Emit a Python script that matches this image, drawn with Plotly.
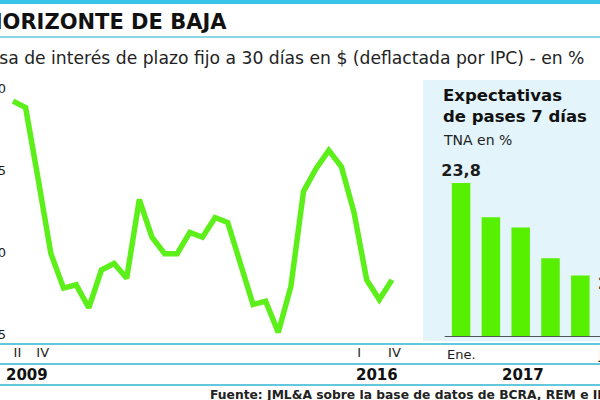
import plotly.graph_objects as go

# ---- Data: real plazo-fijo rate (deflated by CPI), quarterly 2009-II .. 2016-IV
quarters = ["2009-II","2009-III","2009-IV",
            "2010-I","2010-II","2010-III","2010-IV",
            "2011-I","2011-II","2011-III","2011-IV",
            "2012-I","2012-II","2012-III","2012-IV",
            "2013-I","2013-II","2013-III","2013-IV",
            "2014-I","2014-II","2014-III","2014-IV",
            "2015-I","2015-II","2015-III","2015-IV",
            "2016-I","2016-II","2016-III","2016-IV"]
real_rate = [9.2, 8.8, 4.4, -0.1, -2.2, -2.0, -3.4, -1.1, -0.7, -1.6,
             3.2, 0.9, -0.1, -0.1, 1.2, 0.9, 2.1, 1.8, -0.7, -3.2,
             -3.0, -4.9, -2.1, 3.7, 5.1, 6.2, 5.2, 2.4, -1.7, -2.9, -1.7]
q_idx = list(range(len(quarters)))
q_tickvals = [0.35, 2.35, 27.4, 30.2]
q_ticktext = ["II", "IV", "I", "IV"]
y_ticks = [10, 5, 0, -5]

# ---- Data: expected 7-day repo rate (TNA %), 2017
months = ["Ene.", "Feb.", "Mar.", "Abr.", "May.", "Jun."]
pases = [23.8, 22.8, 22.5, 21.6, 21.1, 20.6]
pases_labels = ["23,8", "", "", "", "", "20,6"]
m_idx = list(range(len(months)))

W, H = 600, 400
def px(x): return x / W
def py(y): return 1 - y / H

GREEN = "#5CEF1A"
CYAN = "#63C7DE"
DARK = "#1c1c1c"

fig = go.Figure()

fig.add_trace(go.Scatter(
    x=q_idx, y=real_rate, mode="lines",
    line=dict(color=GREEN, width=5.5, shape="linear"),
    xaxis="x", yaxis="y", hoverinfo="skip", showlegend=False))

fig.add_trace(go.Bar(
    x=m_idx, y=pases, marker=dict(color="#57F000", line=dict(width=0)),
    width=0.62, text=pases_labels, textposition="outside",
    constraintext="none",
    textfont=dict(family="DejaVu Sans", size=16, color=DARK, weight="bold"),
    cliponaxis=False,
    xaxis="x2", yaxis="y2", hoverinfo="skip", showlegend=False))

shapes = []
# top cyan band
shapes.append(dict(type="rect", xref="paper", yref="paper", x0=0, x1=1,
                   y0=py(4), y1=1, fillcolor="#38C3E8", line=dict(width=0), layer="below"))
# panel background
shapes.append(dict(type="rect", xref="paper", yref="paper", x0=px(423), x1=1,
                   y0=py(341), y1=py(80), fillcolor="#E3F4FA", line=dict(width=0), layer="below"))
# horizontal cyan rules
for yy, w in [(37, 1.5), (344, 2), (364, 2), (385, 2)]:
    shapes.append(dict(type="line", xref="paper", yref="paper", x0=0, x1=1,
                       y0=py(yy), y1=py(yy), line=dict(color=CYAN, width=w)))
# bar baseline
shapes.append(dict(type="line", xref="x2", yref="y2", x0=-0.55, x1=4.66,
                   y0=19.3, y1=19.3, line=dict(color="#555555", width=2)))

annotations = [
    dict(text="HORIZONTE DE BAJA", xref="paper", yref="paper", x=px(-17), y=py(22),
         xanchor="left", yanchor="middle", showarrow=False,
         font=dict(family="DejaVu Sans", size=21, color="#111111", weight="bold")),
    dict(text="Tasa de interés de plazo fijo a 30 días en $ (deflactada por IPC) - en %",
         xref="paper", yref="paper", x=px(-22), y=py(58),
         xanchor="left", yanchor="middle", showarrow=False,
         font=dict(family="DejaVu Sans", size=17.2, color="#222222")),
    dict(text="Expectativas<br>de pases 7 días", xref="paper", yref="paper",
         x=px(441), y=py(106), xanchor="left", yanchor="middle", align="left",
         showarrow=False,
         font=dict(family="DejaVu Sans", size=16.5, color="#111111", weight="bold")),
    dict(text="TNA en %", xref="paper", yref="paper", x=px(441), y=py(140),
         xanchor="left", yanchor="middle", showarrow=False,
         font=dict(family="DejaVu Sans", size=14, color="#222222")),
    dict(text="2009", xref="x", yref="paper", x=1.1, y=py(375),
         xanchor="center", yanchor="middle", showarrow=False,
         font=dict(family="DejaVu Sans", size=15, color="#111111", weight="bold")),
    dict(text="2016", xref="x", yref="paper", x=28.8, y=py(375),
         xanchor="center", yanchor="middle", showarrow=False,
         font=dict(family="DejaVu Sans", size=15, color="#111111", weight="bold")),
    dict(text="2017", xref="paper", yref="paper", x=px(523), y=py(375),
         xanchor="center", yanchor="middle", showarrow=False,
         font=dict(family="DejaVu Sans", size=15, color="#111111", weight="bold")),
    dict(text="Fuente: JML&A sobre la base de datos de BCRA, REM e INDEC",
         xref="paper", yref="paper", x=px(208), y=py(395),
         xanchor="left", yanchor="middle", showarrow=False,
         font=dict(family="DejaVu Sans", size=12.3, color="#222222", weight="bold")),
    dict(text=months[0], xref="x2", yref="paper", x=m_idx[0], y=py(354),
         xanchor="center", yanchor="middle", showarrow=False,
         font=dict(family="DejaVu Sans", size=13, color=DARK)),
    # last month & last bar label fall at the right edge of the page
    dict(text=months[-1], xref="paper", yref="paper", x=px(596), y=py(354),
         xanchor="left", yanchor="middle", showarrow=False,
         font=dict(family="DejaVu Sans", size=13, color=DARK)),
    dict(text=pases_labels[-1], xref="paper", yref="paper", x=px(596), y=py(283),
         xanchor="left", yanchor="middle", showarrow=False,
         font=dict(family="DejaVu Sans", size=16, color=DARK, weight="bold")),
]

fig.update_layout(
    width=W, height=H, margin=dict(l=0, r=0, t=0, b=0, autoexpand=False),
    paper_bgcolor="white", plot_bgcolor="rgba(0,0,0,0)",
    shapes=shapes, annotations=annotations,
    xaxis=dict(domain=[px(7), px(420)], range=[-0.475, 32.22], automargin=False,
               tickvals=q_tickvals, ticktext=q_ticktext, ticks="",
               showgrid=False, zeroline=False, showline=False,
               tickfont=dict(family="DejaVu Sans", size=13, color=DARK)),
    yaxis=dict(domain=[py(343), py(80)], range=[(252 - 343) / 16.4, (252 - 80) / 16.4],
               automargin=False,
               tickvals=y_ticks, ticks="", showgrid=False, zeroline=False,
               showline=False,
               tickfont=dict(family="DejaVu Sans", size=13, color=DARK)),
    xaxis2=dict(domain=[px(425), 1], range=[-1.21, 4.66], showticklabels=False,
                automargin=False,
                ticks="", showgrid=False, zeroline=False, showline=False),
    yaxis2=dict(domain=[py(337), py(80)], range=[19.3, 19.3 + (337 - 80) / 34.2],
                anchor="x2", showticklabels=False, ticks="", showgrid=False,
                automargin=False,
                zeroline=False, showline=False),
)

fig.write_html("out.html")
